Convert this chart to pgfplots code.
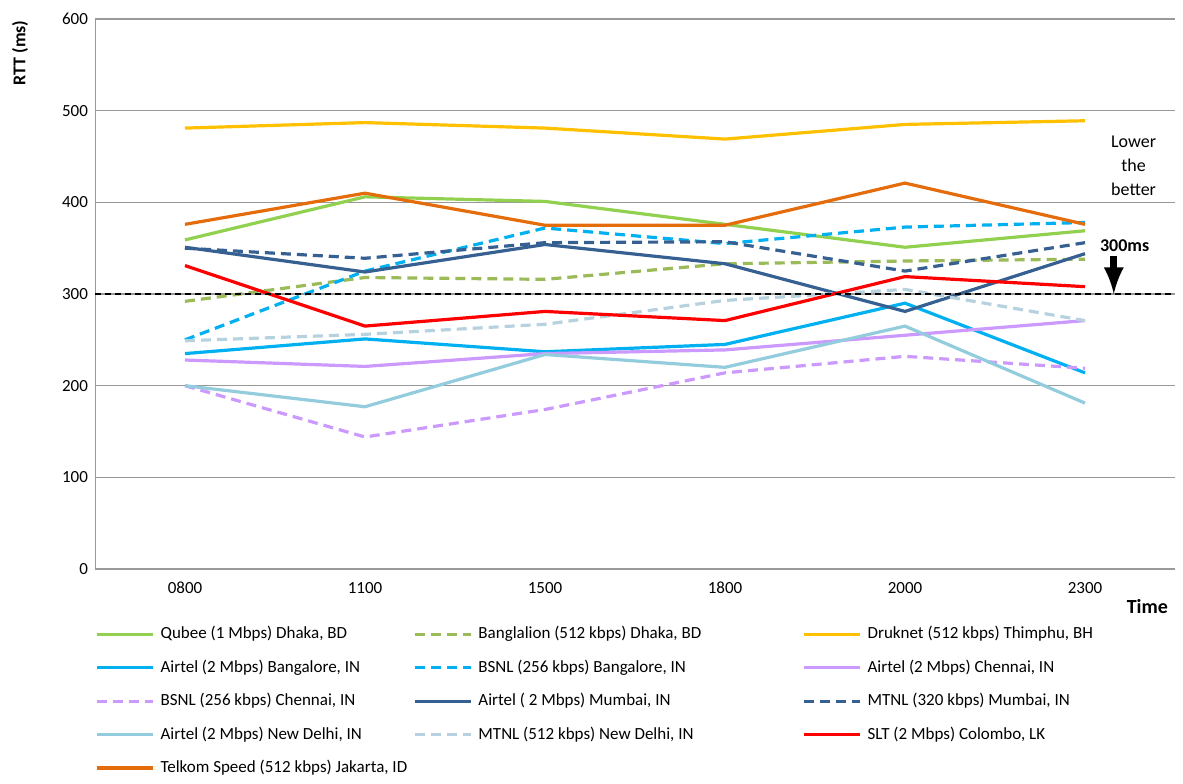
\documentclass[border=0pt]{standalone}
\usepackage{pgfplots}
\pgfplotsset{compat=1.18}
\usepackage{fontspec}
\setmainfont{Carlito}
\definecolor{cgreen}{HTML}{92D050}
\definecolor{colive}{HTML}{9BBB59}
\definecolor{cgold}{HTML}{FFC000}
\definecolor{cblue}{HTML}{00B0F0}
\definecolor{clav}{HTML}{CC99FF}
\definecolor{cnavy}{HTML}{376092}
\definecolor{clblue}{HTML}{93CDDD}
\definecolor{cgblue}{HTML}{B7D2DE}
\definecolor{cred}{HTML}{FF0000}
\definecolor{corange}{HTML}{E46C0A}
\begin{document}
\begin{tikzpicture}
\useasboundingbox (-47.5pt,-107pt) rectangle (544pt,284.5pt);
\node[rotate=90,font=\bfseries\fontsize{9}{10}\selectfont] at (-37.5pt,258pt) {RTT (ms)};
\begin{axis}[at={(0,0)},anchor=south west,scale only axis,
 width=540pt,height=275pt,
 xmin=-0.5,xmax=5.5,ymin=0,ymax=600,
 xtick={0,...,5},xticklabels={0800,1100,1500,1800,2000,2300},
 ytick={0,100,...,600},
 ymajorgrids,grid style={gray!80,line width=0.6pt},
 axis line style={gray!80},
 axis x line*=bottom, axis y line*=left,
 major tick length=0pt,
 tick label style={font=\fontsize{8.5}{9}\selectfont},
 xticklabel style={yshift=-3pt},
 /pgf/number format/assume math mode=true,
 every axis plot/.append style={line width=1.6pt},
 legend columns=3,
 legend style={at={(0,-0.093)},anchor=north west,draw=none,inner xsep=0pt,inner ysep=1pt,font=\fontsize{8.5}{9}\selectfont,
   /tikz/every even column/.append style={column sep=0pt},row sep=5pt,
   nodes={inner xsep=3pt}},
 legend image code/.code={\draw[#1] (0pt,0pt) -- (28pt,0pt);},
 legend cell align=left,
 clip=false,
]
\addplot[cgreen] coordinates {(0,359)(1,406)(2,401)(3,376)(4,351)(5,369)};
\addlegendentry{\makebox[121pt][l]{Qubee (1 Mbps) Dhaka, BD}}
\addplot[colive,dash pattern=on 5pt off 3pt] coordinates {(0,292)(1,318)(2,316)(3,333)(4,336)(5,338)};
\addlegendentry{\makebox[159pt][l]{Banglalion (512 kbps) Dhaka, BD}}
\addplot[cgold] coordinates {(0,481)(1,487)(2,481)(3,469)(4,485)(5,489)};
\addlegendentry{Druknet (512 kbps) Thimphu, BH}
\addplot[cblue] coordinates {(0,235)(1,251)(2,237)(3,245)(4,290)(5,214)};
\addlegendentry{Airtel (2 Mbps) Bangalore, IN}
\addplot[cblue,dash pattern=on 5pt off 3pt] coordinates {(0,250)(1,325)(2,372)(3,355)(4,373)(5,378)};
\addlegendentry{BSNL (256 kbps) Bangalore, IN}
\addplot[clav] coordinates {(0,228)(1,221)(2,235)(3,239)(4,255)(5,271)};
\addlegendentry{Airtel (2 Mbps) Chennai, IN}
\addplot[clav,dash pattern=on 5pt off 3pt] coordinates {(0,200)(1,144)(2,174)(3,214)(4,232)(5,219)};
\addlegendentry{BSNL (256 kbps) Chennai, IN}
\addplot[cnavy] coordinates {(0,351)(1,324)(2,354)(3,333)(4,281)(5,344)};
\addlegendentry{Airtel ( 2 Mbps) Mumbai, IN}
\addplot[cnavy,dash pattern=on 5pt off 3pt] coordinates {(0,350)(1,339)(2,356)(3,357)(4,325)(5,356)};
\addlegendentry{MTNL (320 kbps) Mumbai, IN}
\addplot[clblue] coordinates {(0,200)(1,177)(2,234)(3,220)(4,265)(5,181)};
\addlegendentry{Airtel (2 Mbps) New Delhi, IN}
\addplot[cgblue,dash pattern=on 5pt off 3pt] coordinates {(0,249)(1,256)(2,267)(3,293)(4,305)(5,271)};
\addlegendentry{MTNL (512 kbps) New Delhi, IN}
\addplot[cred] coordinates {(0,331)(1,265)(2,281)(3,271)(4,319)(5,308)};
\addlegendentry{SLT (2 Mbps) Colombo, LK}
\addplot[corange] coordinates {(0,376)(1,410)(2,375)(3,375)(4,421)(5,376)};
\addlegendentry{Telkom Speed (512 kbps) Jakarta, ID}
\addplot[black,line width=1pt,dash pattern=on 3pt off 2pt,forget plot] coordinates {(-0.5,300)(5.5,300)};
\node[align=center,font=\fontsize{9}{12}\selectfont] at (axis cs:5.27,440) {Lower\\the\\better};
\node[font=\bfseries\fontsize{9}{10}\selectfont] at (axis cs:5.22,353) {300ms};
\draw[-{latex},line width=3.5pt,black] (axis cs:5.16,342) -- (axis cs:5.16,300);
\node[font=\bfseries\fontsize{10}{10}\selectfont,anchor=north east] at (axis cs:5.5,-26) {Time};
\end{axis}
\end{tikzpicture}
\end{document}
